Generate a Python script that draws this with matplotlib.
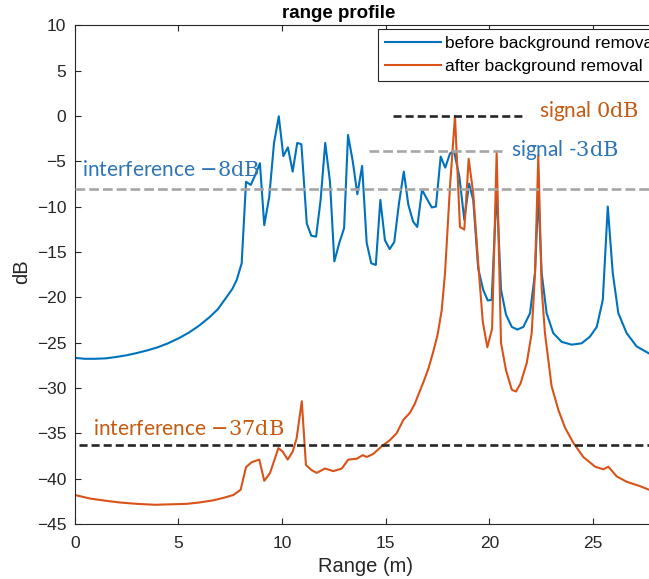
import matplotlib
matplotlib.use("Agg")
import matplotlib.pyplot as plt

plt.rcParams["font.family"] = ["Liberation Sans", "DejaVu Sans"]
plt.rcParams["mathtext.fontset"] = "custom"
plt.rcParams["mathtext.rm"] = "DejaVu Serif"
plt.rcParams["lines.scale_dashes"] = False

# ---- range profile before background removal (blue) ----
range_before = [0.0, 0.5, 1.0, 1.5, 2.0, 2.5, 3.0, 3.5, 4.0, 4.5,
                5.0, 5.5, 6.0, 6.5, 6.9, 7.3, 7.6, 7.81, 8.05, 8.26,
                8.49, 8.71, 8.93, 9.14, 9.38, 9.61, 9.84, 10.06, 10.28, 10.51,
                10.73, 10.93, 11.19, 11.41, 11.64, 11.86, 12.08, 12.31, 12.52, 12.76,
                12.99, 13.18, 13.41, 13.63, 13.86, 14.08, 14.3, 14.52, 14.74, 14.96,
                15.19, 15.41, 15.64, 15.87, 16.09, 16.32, 16.52, 16.75, 16.98, 17.22,
                17.42, 17.65, 17.87, 18.1, 18.29, 18.55, 18.79, 19.02, 19.22, 19.46,
                19.7, 19.92, 20.11, 20.35, 20.56, 20.8, 21.08, 21.35, 21.64, 21.96,
                22.2, 22.36, 22.52, 22.76, 23.08, 23.49, 23.97, 24.45, 24.85, 25.18,
                25.47, 25.71, 25.95, 26.22, 26.62, 27.1, 27.7, 28.5]
db_before = [-26.68, -26.78, -26.78, -26.73, -26.58, -26.39, -26.14, -25.85, -25.51, -25.07,
             -24.53, -23.90, -23.12, -22.19, -21.31, -20.04, -19.07, -18.09, -16.24, -7.26,
             -7.60, -6.48, -5.21, -12.04, -8.92, -2.97, -0.04, -4.43, -3.46, -6.14,
             -2.97, -3.12, -11.85, -13.21, -13.31, -9.21, -2.97, -7.26, -16.04, -13.99,
             -12.38, -2.09, -5.02, -8.63, -5.51, -13.99, -16.24, -16.43, -9.26, -13.70,
             -14.68, -13.90, -9.60, -6.14, -9.80, -11.65, -12.24, -8.14, -9.12, -10.09,
             -9.99, -4.48, -5.70, -4.14, -3.85, -6.68, -11.46, -7.46, -9.26, -16.82,
             -19.17, -20.34, -20.29, -8.14, -19.17, -21.90, -23.26, -23.56, -23.26, -21.75,
             -17.31, -8.53, -17.31, -21.75, -23.95, -24.92, -25.22, -25.07, -24.34, -23.26,
             -20.29, -9.99, -17.31, -21.75, -23.95, -25.41, -26.19, -26.87]

# ---- range profile after background removal (orange) ----
range_after = [0.0, 0.73, 1.5, 2.18, 3.0, 3.87, 4.6, 5.39, 6.0, 6.68,
               7.2, 7.65, 8.0, 8.26, 8.53, 8.9, 9.14, 9.42, 9.82, 10.03,
               10.27, 10.51, 10.7, 10.95, 11.15, 11.43, 11.67, 12.07, 12.47, 12.88,
               13.19, 13.6, 13.89, 14.08, 14.4, 14.8, 15.2, 15.53, 15.85, 16.17,
               16.4, 16.62, 16.84, 17.06, 17.28, 17.5, 17.7, 17.86, 18.1, 18.34,
               18.58, 18.79, 19.0, 19.22, 19.46, 19.68, 19.9, 20.13, 20.35, 20.56,
               20.8, 21.08, 21.28, 21.5, 21.8, 22.04, 22.2, 22.36, 22.52, 22.68,
               22.84, 23.0, 23.33, 23.65, 24.05, 24.53, 25.1, 25.5, 25.74, 26.14,
               26.62, 27.27, 27.7, 28.5]
db_after = [-41.80, -42.19, -42.44, -42.63, -42.78, -42.88, -42.83, -42.78, -42.63, -42.39,
            -42.10, -41.80, -41.22, -38.73, -38.19, -37.90, -40.24, -39.36, -36.63, -37.02,
            -37.90, -37.02, -35.56, -31.46, -38.49, -39.07, -39.36, -38.88, -39.17, -38.88,
            -37.90, -37.80, -37.41, -37.61, -37.27, -36.44, -35.75, -34.97, -33.51, -32.73,
            -31.75, -30.48, -29.22, -27.85, -26.09, -24.14, -21.41, -17.31, -7.75, 0.0,
            -12.24, -12.53, -4.73, -8.53, -16.24, -22.68, -25.51, -23.46, -4.04, -25.02,
            -28.04, -30.19, -30.39, -29.51, -27.26, -23.95, -17.31, -4.34, -18.97, -23.95,
            -26.87, -29.80, -32.44, -34.39, -36.05, -37.61, -38.68, -38.97, -38.68, -39.75,
            -40.34, -40.83, -41.22, -41.61]

# ---- reference levels: (y, x_start, x_end) ----
signal_after_level = (0.0, 15.35, 21.77)
signal_before_level = (-3.85, 14.19, 20.6)
interference_before_level = (-8.04, 0.0, 28.5)
interference_after_level = (-36.34, 0.2, 28.5)

x_ticks = [0, 5, 10, 15, 20, 25]
y_ticks = list(range(-45, 11, 5))

BLUE = "#0072BD"
ORANGE = "#D95319"
TXT_BLUE = "#2E75B6"
TXT_ORANGE = "#C55A11"
DARK = "#262626"
GRAY = "#A6A6A6"

fig = plt.figure(figsize=(6.49, 5.79), dpi=100)
ax = fig.add_axes([74.8 / 649, 1 - 524 / 579, 28.5 * 20.73 / 649, (524 - 25.3) / 579])

l1, = ax.plot(range_before, db_before, color=BLUE, lw=1.5, label="before background removal", zorder=2)
l2, = ax.plot(range_after, db_after, color=ORANGE, lw=1.5, label="after background removal", zorder=2)

for (lvl, x0, x1), col, dash in [
    (signal_after_level, DARK, (5.8, 2.9)),
    (signal_before_level, GRAY, (7.0, 2.9)),
    (interference_before_level, GRAY, (7.0, 2.9)),
    (interference_after_level, DARK, (5.8, 2.9)),
]:
    ax.plot([x0, x1], [lvl, lvl], color=col, lw=1.9, dashes=dash, zorder=3, solid_capstyle="butt")

ax.set_xlim(0, 28.5)
ax.set_ylim(-45, 10)
ax.set_xticks(x_ticks)
ax.set_yticks(y_ticks)
ax.tick_params(direction="in", length=4, width=0.8, colors=DARK, top=True, right=True,
               labelsize=12.5)
ax.tick_params(axis="x", pad=9)
ax.tick_params(axis="y", pad=6)
for sp in ax.spines.values():
    sp.set_color(DARK)
    sp.set_linewidth(0.8)

ax.text(0.33, -6.58, r"interference $\mathrm{-8dB}$", color=TXT_BLUE, fontsize=15, family="Lato", zorder=4)
ax.text(0.88, -35.17, r"interference $\mathrm{-37dB}$", color=TXT_ORANGE, fontsize=15, family="Lato", zorder=4)
ax.text(22.4, -0.14, r"signal $\mathrm{0dB}$", color=TXT_ORANGE, fontsize=15, family="Lato", zorder=4)
ax.text(21.04, -4.43, r"signal -$\mathrm{3dB}$", color=TXT_BLUE, fontsize=15, family="Lato", zorder=4)

leg = ax.legend(handles=[l1, l2], loc="upper left", bbox_to_anchor=(378 / 649, 1 - 29 / 579),
                bbox_transform=fig.transFigure, borderaxespad=0, fontsize=12.5, frameon=True,
                fancybox=False, edgecolor=DARK, framealpha=1, handlelength=3.2,
                handletextpad=0.25, labelspacing=0.45, borderpad=0.4)
leg.get_frame().set_linewidth(0.8)
leg.set_zorder(5)

fig.text(339 / 649, 1 - 13 / 579, "range profile", ha="center", va="center",
         fontsize=13.5, weight="bold", color="black")
fig.text(365 / 649, 1 - 566 / 579, "Range (m)", ha="center", va="center", fontsize=14.5, color=DARK)
fig.text(22 / 649, 1 - 272 / 579, "dB", ha="center", va="center", rotation=90, fontsize=14.5, color=DARK)

fig.savefig("out.png", dpi=100)
